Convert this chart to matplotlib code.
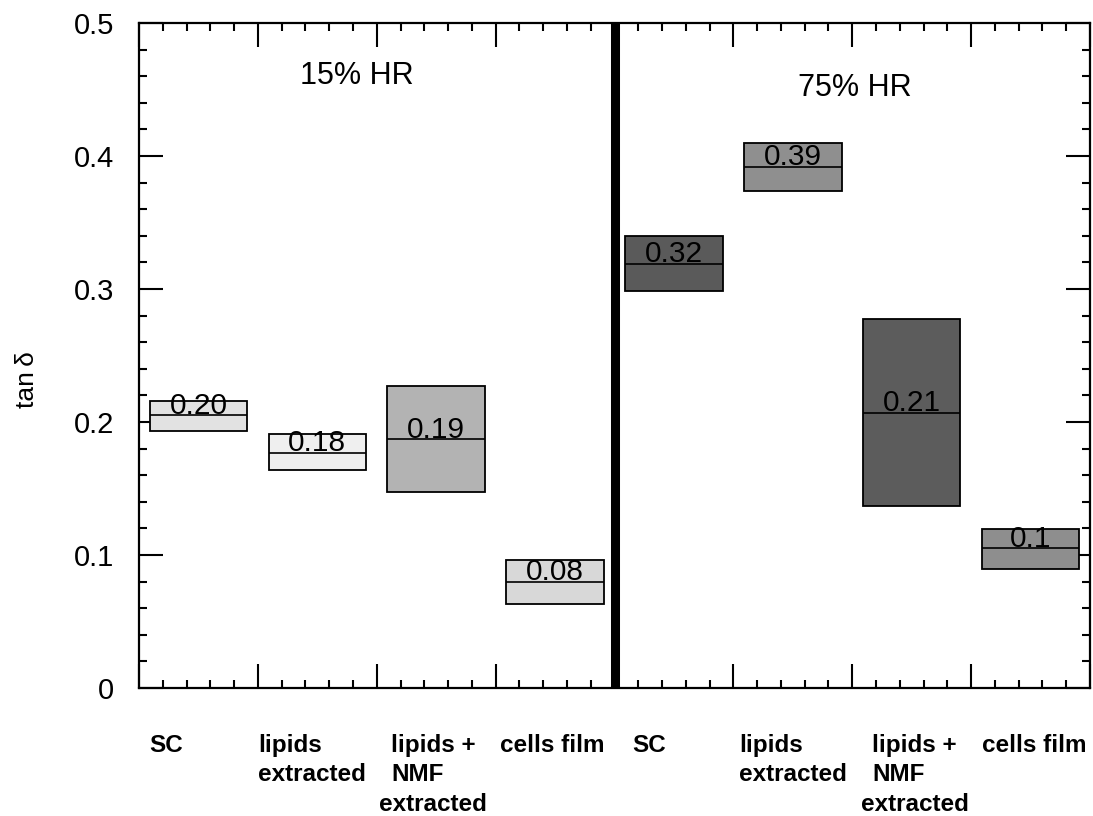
import matplotlib
matplotlib.use("Agg")
import matplotlib.pyplot as plt
import matplotlib.transforms as mtransforms
from matplotlib.ticker import MultipleLocator
import numpy as np

plt.rcParams['font.family'] = ['Liberation Sans', 'DejaVu Sans']

# ---- data ----
categories = ['SC', 'lipids\nextracted', 'lipids +\nNMF', 'cells film']
groups = ['15% HR', '75% HR']

low_15 = [0.193, 0.164, 0.147, 0.063]
high_15 = [0.216, 0.191, 0.227, 0.096]
mid_15 = [0.205, 0.177, 0.187, 0.080]
text_15 = ['0.20', '0.18', '0.19', '0.08']

low_75 = [0.2985, 0.374, 0.137, 0.0895]
high_75 = [0.340, 0.410, 0.2775, 0.1195]
mid_75 = [0.319, 0.392, 0.207, 0.105]
text_75 = ['0.32', '0.39', '0.21', '0.1']

colors_15 = ['#e2e2e2', '#efefef', '#b3b3b3', '#d8d8d8']
colors_75 = ['#5a5a5a', '#8f8f8f', '#5c5c5c', '#8e8e8e']

y_ticks = [0, 0.1, 0.2, 0.3, 0.4, 0.5]
y_tick_labels = ['0', '0.1', '0.2', '0.3', '0.4', '0.5']

# ---- figure ----
fig = plt.figure(figsize=(10.93, 8.16), dpi=100)
ax = fig.add_axes([139/1093, 1-688/816, (1090-139)/1093, (688-23)/816])

ax.set_xlim(0, 8)
ax.set_ylim(0, 0.5)

lows = low_15 + low_75
highs = high_15 + high_75
mids = mid_15 + mid_75
texts = text_15 + text_75
cols = colors_15 + colors_75
n = len(lows)
xs = np.arange(n) + 0.5
bw = 0.82

ax.bar(xs, np.array(highs) - np.array(lows), bottom=lows, width=bw,
       color=cols, edgecolor='black', linewidth=1.3, zorder=2)
ax.hlines(mids, xs - bw/2, xs + bw/2, colors='black', linewidth=1.2, zorder=3)
for x, m, t in zip(xs, mids, texts):
    ax.text(x, m + 0.001, t, ha='center', va='baseline', fontsize=21.5, zorder=4)

# divider
ax.axvline(4, color='black', linewidth=6.5, zorder=5)

# group titles
ax.text(1.83, 0.454, groups[0], ha='center', va='baseline', fontsize=22)
ax.text(6.02, 0.445, groups[1], ha='center', va='baseline', fontsize=22)

# ticks
ax.set_yticks(y_ticks)
ax.set_yticklabels(y_tick_labels)
ax.yaxis.set_minor_locator(MultipleLocator(0.02))
ax.xaxis.set_major_locator(MultipleLocator(1))
ax.xaxis.set_minor_locator(MultipleLocator(0.2))
ax.tick_params(axis='both', which='both', direction='in', top=True, right=True, width=1.5)
ax.tick_params(axis='both', which='major', length=17)
ax.tick_params(axis='both', which='minor', length=6)
ax.tick_params(axis='x', which='both', labelbottom=False)
ax.tick_params(axis='y', which='major', labelsize=21, pad=18)
for s in ax.spines.values():
    s.set_linewidth(1.6)

# category labels
trans = mtransforms.blended_transform_factory(ax.transData, ax.transAxes)
label_x = [0.09, 1.0, 2.12, 3.04, 4.15, 5.05, 6.17, 7.09]
ytop = -46/665
for i, x in enumerate(label_x):
    cat = categories[i % 4]
    ax.text(x, ytop, cat, transform=trans, ha='left', va='top',
            fontsize=17.5, fontweight='bold', linespacing=1.35)
    if i % 4 == 2:
        ax.text(x - 0.1, ytop - 59/665, 'extracted', transform=trans, ha='left', va='top',
                fontsize=17.5, fontweight='bold')

fig.text(27/1093, 1-380/816, 'tan\u2009δ', rotation=90, ha='center', va='center', fontsize=19)

fig.savefig('out.png', dpi=100)
